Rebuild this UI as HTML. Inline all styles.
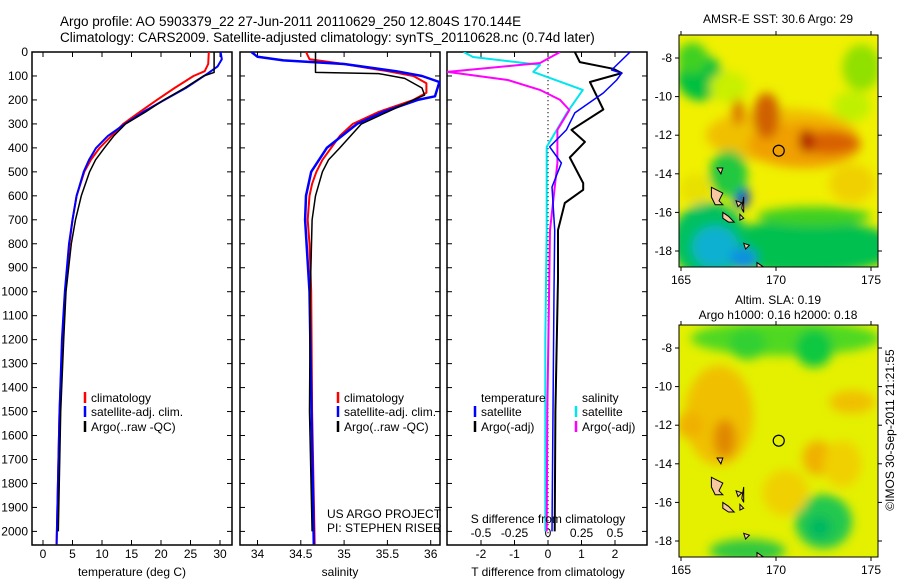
<!DOCTYPE html>
<html><head><meta charset="utf-8">
<style>
html,body{margin:0;padding:0;background:#fff;}
svg{display:block;font-family:"Liberation Sans",sans-serif;}
text{font-size:12px;fill:#000;}
</style></head>
<body>
<svg id="chart" width="900" height="580" viewBox="0 0 900 580" xmlns="http://www.w3.org/2000/svg">
<defs>
<filter id="blur1" x="-50%" y="-50%" width="200%" height="200%"><feGaussianBlur stdDeviation="5"/></filter>
<clipPath id="clipP1"><rect x="32" y="52" width="200" height="493"/></clipPath>
<clipPath id="clipP2"><rect x="240" y="52" width="200" height="493"/></clipPath>
<clipPath id="clipP3"><rect x="447" y="52" width="200" height="493"/></clipPath>
<clipPath id="clipM1"><rect x="679" y="35" width="199" height="232"/></clipPath>
<clipPath id="clipM2"><rect x="679" y="325" width="199" height="232"/></clipPath>
</defs>
<text x="60" y="26" style="font-size:13.5px">Argo profile: AO 5903379_22 27-Jun-2011 20110629_250 12.804S 170.144E</text>
<text x="60" y="42" style="font-size:13.5px">Climatology: CARS2009. Satellite-adjusted climatology: synTS_20110628.nc (0.74d later)</text>
<g id="g"></g>
<text transform="translate(894,430) rotate(-90)" text-anchor="middle">©IMOS 30-Sep-2011 21:21:55</text>
</svg>
<script>
// ---------- data ----------
const tempClimDepth=[0,50,80,100,150,200,250,300,350,400,450,500,600,700,800,1000,1200,1500,2054];
const tempClim=[28.1,28.0,27.4,25.5,22.3,19.3,16.4,13.6,11.6,9.6,8.1,7.0,5.7,5.0,4.5,3.8,3.3,2.8,2.3];
const tempSatDepth=[0,30,60,90,150,200,250,300,350,400,450,500,600,700,800,1000,1200,1500,2054];
const tempSat=[30.1,30.3,29.6,27.9,24.2,20.6,17.0,13.9,11.0,9.0,7.8,6.9,5.7,5.0,4.4,3.7,3.2,2.8,2.3];
const tempArgoDepth=[0,85,100,150,200,250,300,350,400,450,500,600,700,800,1000,1200,1500,2000];
const tempArgo=[29.0,29.0,27.2,24.0,20.5,17.4,14.0,12.0,10.4,8.9,7.9,6.5,5.5,4.8,3.9,3.5,3.0,2.6];

const salClimDepth=[0,30,50,80,100,130,170,200,250,300,350,400,450,500,550,600,700,800,1000,1500,2054];
const salClim=[34.56,34.6,35.0,35.5,35.8,35.95,35.95,35.8,35.4,35.1,34.95,34.85,34.75,34.68,34.63,34.6,34.58,34.6,34.62,34.63,34.66];
const salSatDepth=[0,20,35,50,80,100,125,185,200,250,300,400,500,600,700,1000,2054];
const salSat=[33.93,34.0,34.3,35.0,35.6,35.9,36.1,36.05,35.85,35.45,35.15,34.8,34.62,34.56,34.55,34.6,34.65];
const salArgoDepth=[0,85,90,110,150,180,200,250,300,400,450,500,600,700,1000,1500,2000];
const salArgo=[34.67,34.67,35.4,35.7,35.9,35.93,35.8,35.5,35.2,34.95,34.82,34.75,34.67,34.63,34.61,34.6,34.63];

const dTSatDepth=[0,75,88,117,171,254,325,396,463,563,743,1000,1500,2000];
const dTSat=[2.45,1.9,2.2,2.05,1.65,0.8,0.55,0.05,0.4,0.12,0.2,0.18,0.15,0.12];
const dTArgoDepth=[0,42,70,88,125,240,325,375,440,547,575,630,743,943,1500,2000];
const dTArgo=[0.8,0.95,1.95,2.2,1.25,1.65,0.7,1.1,0.65,1.05,1.05,0.5,0.3,0.3,0.22,0.2];
const dSSatDepth=[0,21,54,83,158,254,396,463,743,1200,2000];
const dSSat=[-0.63,-0.56,-0.06,-0.11,0.26,0.14,-0.01,-0.01,-0.01,-0.02,-0.02];
const dSArgoDepth=[0,46,83,117,158,200,242,325,463,743,1500,2000];
const dSArgo=[0.09,-0.06,-0.75,-0.3,-0.06,0.09,0.16,0.07,0.07,0.015,-0.005,-0.01];

const depthTicks=[0,100,200,300,400,500,600,700,800,900,1000,1100,1200,1300,1400,1500,1600,1700,1800,1900,2000];
const tempTicks=[0,5,10,15,20,25,30];
const salTicks=[34,34.5,35,35.5,36];
const dTTicks=[-2,-1,0,1,2];
const dSTicks=[-0.5,-0.25,0,0.25,0.5];
const latTicks=[-8,-10,-12,-14,-16,-18];
const lonTicks=[165,170,175];
const argoPos=[170.144,-12.804];

// ---------- helpers ----------
const NS="http://www.w3.org/2000/svg";
const G=document.getElementById('g');
function mk(tag,attrs,parent){const e=document.createElementNS(NS,tag);for(const k in attrs)e.setAttribute(k,attrs[k]);(parent||G).appendChild(e);return e;}
const yD=d=>52+d*0.2397;
const xT=v=>43+v*5.9;
const xS=v=>257.5+(v-34)*86.6;
const xDT=v=>548+v*33.5;
const xDS=v=>548+v*134;
const lonX=(lon)=>681+(lon-165)*19;
const latY=(lat,top)=>top+23+(-8-lat)*19.3;

function frame(x,w,name){
  const r=mk('rect',{x:x,y:52,width:w,height:493,fill:'none',stroke:'#000','stroke-width':1.5});
  
  
}
function line(xs,ds,xf,color,w,clip,name){
  const pts=xs.map((v,i)=>xf(v).toFixed(1)+','+yD(ds[i]).toFixed(1)).join(' ');
  const p=mk('polyline',{points:pts,fill:'none',stroke:color,'stroke-width':w,'clip-path':'url(#'+clip+')','stroke-linejoin':'round'});
  
  
}
function xticks(ticks,xf,labelY,top,bottom){
  ticks.forEach(t=>{
    const x=xf(t);
    if(bottom){mk('line',{x1:x,x2:x,y1:545,y2:540,stroke:'#000'});}
    if(top){mk('line',{x1:x,x2:x,y1:52,y2:57,stroke:'#000'});}
    if(labelY){const tx=mk('text',{x:x,y:labelY,'text-anchor':'middle'});tx.textContent=String(t);
      
      }
  });
}
function yticks(x0,x1){
  depthTicks.forEach(d=>{const y=yD(d);
    mk('line',{x1:x0,x2:x0+5,y1:y,y2:y,stroke:'#000'});
    mk('line',{x1:x1,x2:x1-5,y1:y,y2:y,stroke:'#000'});});
}
function txt(x,y,s,name,anchor){const t=mk('text',{x:x,y:y,'text-anchor':anchor||'start'});t.textContent=s;
  
  
  return t;}
function legendEntry(x,y,color,label,name){
  mk('line',{x1:x,x2:x,y1:y-10,y2:y+1,stroke:color,'stroke-width':2.5});
  txt(x+6,y,label,name);
}

// ---------- panel 1 ----------
frame(32,200,'temperature-panel');
yticks(32,232);
depthTicks.forEach(d=>{txt(28,yD(d)+4,String(d),'depth-tick-label','end');});
xticks(tempTicks,xT,558,true,true);
line(tempClim,tempClimDepth,xT,'#ff0000',2,'clipP1','temp-climatology-line');
line(tempSat,tempSatDepth,xT,'#0000ff',2,'clipP1','temp-satellite-line');
line(tempArgo,tempArgoDepth,xT,'#000000',1.5,'clipP1','temp-argo-line');
txt(132,576,'temperature (deg C)','x-axis-title-temperature','middle');
legendEntry(85,402,'#ff0000','climatology','legend-climatology');
legendEntry(85,416,'#0000ff','satellite-adj. clim.','legend-satellite');
legendEntry(85,431,'#000000','Argo(..raw -QC)','legend-argo');

// ---------- panel 2 ----------
frame(240,200,'salinity-panel');
yticks(240,440);
xticks(salTicks,xS,558,true,true);
line(salClim,salClimDepth,xS,'#ff0000',2,'clipP2','sal-climatology-line');
line(salSat,salSatDepth,xS,'#0000ff',2.5,'clipP2','sal-satellite-line');
line(salArgo,salArgoDepth,xS,'#000000',1.5,'clipP2','sal-argo-line');
txt(340,576,'salinity','x-axis-title-salinity','middle');
legendEntry(338,402,'#ff0000','climatology','legend-climatology-2');
legendEntry(338,416,'#0000ff','satellite-adj. clim.','legend-satellite-2');
legendEntry(338,431,'#000000','Argo(..raw -QC)','legend-argo-2');
txt(327,518,'US ARGO PROJECT','project-label');
txt(327,532,'PI: STEPHEN RISER','pi-label');

// ---------- panel 3 ----------
frame(447,200,'difference-panel');
yticks(447,647);
xticks(dTTicks,xDT,558,false,true);
xticks(dSTicks,xDS,null,true,false);
dSTicks.forEach(t=>{txt(xDS(t),537,String(t),'s-diff-tick-label','middle');});
for(let y=52;y<545;y+=4){mk('line',{x1:548,x2:548,y1:y,y2:y+1.2,stroke:'#000','stroke-width':1});}
line(dSSat,dSSatDepth,xDS,'#00e5ee',2,'clipP3','s-diff-satellite-line');
line(dSArgo,dSArgoDepth,xDS,'#ff00ff',2,'clipP3','s-diff-argo-line');
line(dTArgo,dTArgoDepth,xDT,'#000000',2,'clipP3','t-diff-argo-line');
line(dTSat,dTSatDepth,xDT,'#0000ff',1.5,'clipP3','t-diff-satellite-line');
txt(548,523,'S difference from climatology','s-diff-axis-title','middle');
txt(548,576,'T difference from climatology','t-diff-axis-title','middle');
txt(481,402,'temperature','legend-temperature-header');
legendEntry(475,416,'#0000ff','satellite','legend-t-satellite');
legendEntry(475,431,'#000000','Argo(-adj)','legend-t-argo');
txt(582,402,'salinity','legend-salinity-header');
legendEntry(576,416,'#00e5ee','satellite','legend-s-satellite');
legendEntry(576,431,'#ff00ff','Argo(-adj)','legend-s-argo');

// ---------- maps ----------
const sstBlobs=[
 [170,-13,8,8,'#f0f000'],[166,-9,1.2,1.2,'#00c040'],[165.6,-8,0.8,0.8,'#40d020'],[167.5,-9.5,1,0.8,'#c8f000'],
 [174.5,-8.5,1,1.2,'#90e000'],[174,-10.5,1,0.8,'#c0f000'],
 [170.3,-12,4,1.4,'#f0c000'],[171.5,-12.5,3,1.2,'#f0a000'],[169.5,-11,0.7,1.2,'#d06000'],
 [172.8,-12.4,1.6,0.6,'#d86000'],[171.6,-12.3,0.4,0.6,'#b02000'],[168,-10.8,0.3,0.7,'#d87000'],
 [171.5,-17.8,5,1.4,'#00c050'],[172,-16.2,3,0.5,'#40d020'],[166.5,-17.5,2,2,'#00c060'],
 [166.8,-17.8,1.2,1.1,'#10b0d0'],[168.3,-18.4,0.7,0.6,'#1090e0'],[168.2,-15.2,0.4,0.6,'#1040d0'],
 [167.5,-14,1,1.2,'#20c840'],[165.8,-14.8,0.8,0.8,'#e8e000'],[174,-14.5,1.2,1,'#f0d000']
];
const slaBlobs=[
 [170,-13,8,8,'#e4f000'],[170.5,-7.5,5,0.9,'#50d820'],[172,-8,1,1,'#10c840'],[168.5,-7.8,1,0.8,'#30d030'],
 [167,-11.5,1.8,2.6,'#f0c000'],[167.3,-12.7,0.6,1,'#e08800'],[165.5,-12,0.7,0.7,'#f0b000'],
 [174,-10.8,1.2,0.6,'#f0c000'],[172.2,-13.7,0.8,0.9,'#f0b000'],[173.5,-14,1,1.2,'#f0d000'],
 [172.5,-17,1.5,1.4,'#20c850'],[172.3,-17.3,0.6,0.6,'#00b860'],[168.5,-18.5,2,0.6,'#30c840'],
 [170.5,-15.5,1.2,1.2,'#f0d000']
];
const islands=[
 [[166.6,-14.7],[167.2,-15.0],[167.0,-15.4],[167.2,-15.6],[166.8,-15.6],[166.6,-15.2]],
 [[167.2,-16.0],[167.5,-16.2],[167.8,-16.5],[167.5,-16.5],[167.2,-16.3]],
 [[168.1,-16.1],[168.3,-16.3],[168.1,-16.4]],
 [[168.3,-17.6],[168.6,-17.7],[168.4,-17.9]],
 [[167.9,-15.4],[168.2,-15.5],[168.0,-15.7]],
 [[168.3,-15.2],[168.3,-16.0],[168.2,-15.8]],
 [[169.0,-18.6],[169.3,-18.8],[169.0,-18.9]],
 [[166.9,-13.7],[167.2,-13.7],[167.1,-14.0]]
];
function drawMap(top,blobs,clip,name,title1,title2){
  const bottom=top+232;
  const grp=mk('g',{'clip-path':'url(#'+clip+')'});
  
  
  mk('rect',{x:679,y:top,width:199,height:232,fill:blobs[0][4]},grp);
  const bg=mk('g',{filter:'url(#blur1)'},grp);
  blobs.slice(1).forEach(b=>{mk('ellipse',{cx:lonX(b[0]),cy:latY(b[1],top),rx:b[2]*19,ry:b[3]*19.3,fill:b[4]},bg);});
  islands.forEach(isl=>{
    const pts=isl.map(p=>lonX(p[0]).toFixed(1)+','+latY(p[1],top).toFixed(1)).join(' ');
    mk('polygon',{points:pts,fill:'#f8c8a0',stroke:'#000','stroke-width':1},grp);
  });
  const c=mk('circle',{cx:lonX(argoPos[0]),cy:latY(argoPos[1],top),r:5.5,fill:'none',stroke:'#000','stroke-width':1.2});
  
  
  mk('rect',{x:679,y:top,width:199,height:232,fill:'none',stroke:'#000','stroke-width':1});
  latTicks.forEach(l=>{const y=latY(l,top);
    mk('line',{x1:675,x2:679,y1:y,y2:y,stroke:'#000'});
    mk('line',{x1:878,x2:882,y1:y,y2:y,stroke:'#000'});
    txt(672,y+4,String(l),'lat-tick-label','end');});
  lonTicks.forEach(l=>{const x=lonX(l);
    mk('line',{x1:x,x2:x,y1:top-4,y2:top,stroke:'#000'});
    mk('line',{x1:x,x2:x,y1:bottom,y2:bottom+4,stroke:'#000'});
    txt(x,bottom+17,String(l),'lon-tick-label','middle');});
  if(title2){txt(778,top-21,title1,'map-title','middle');txt(778,top-6,title2,'map-subtitle','middle');}
  else txt(778,top-12,title1,'map-title','middle');
}
drawMap(35,sstBlobs,'clipM1','sst-map','AMSR-E SST: 30.6 Argo: 29');
drawMap(325,slaBlobs,'clipM2','sla-map','Altim. SLA: 0.19','Argo h1000: 0.16 h2000: 0.18');
</script>
</body></html>
